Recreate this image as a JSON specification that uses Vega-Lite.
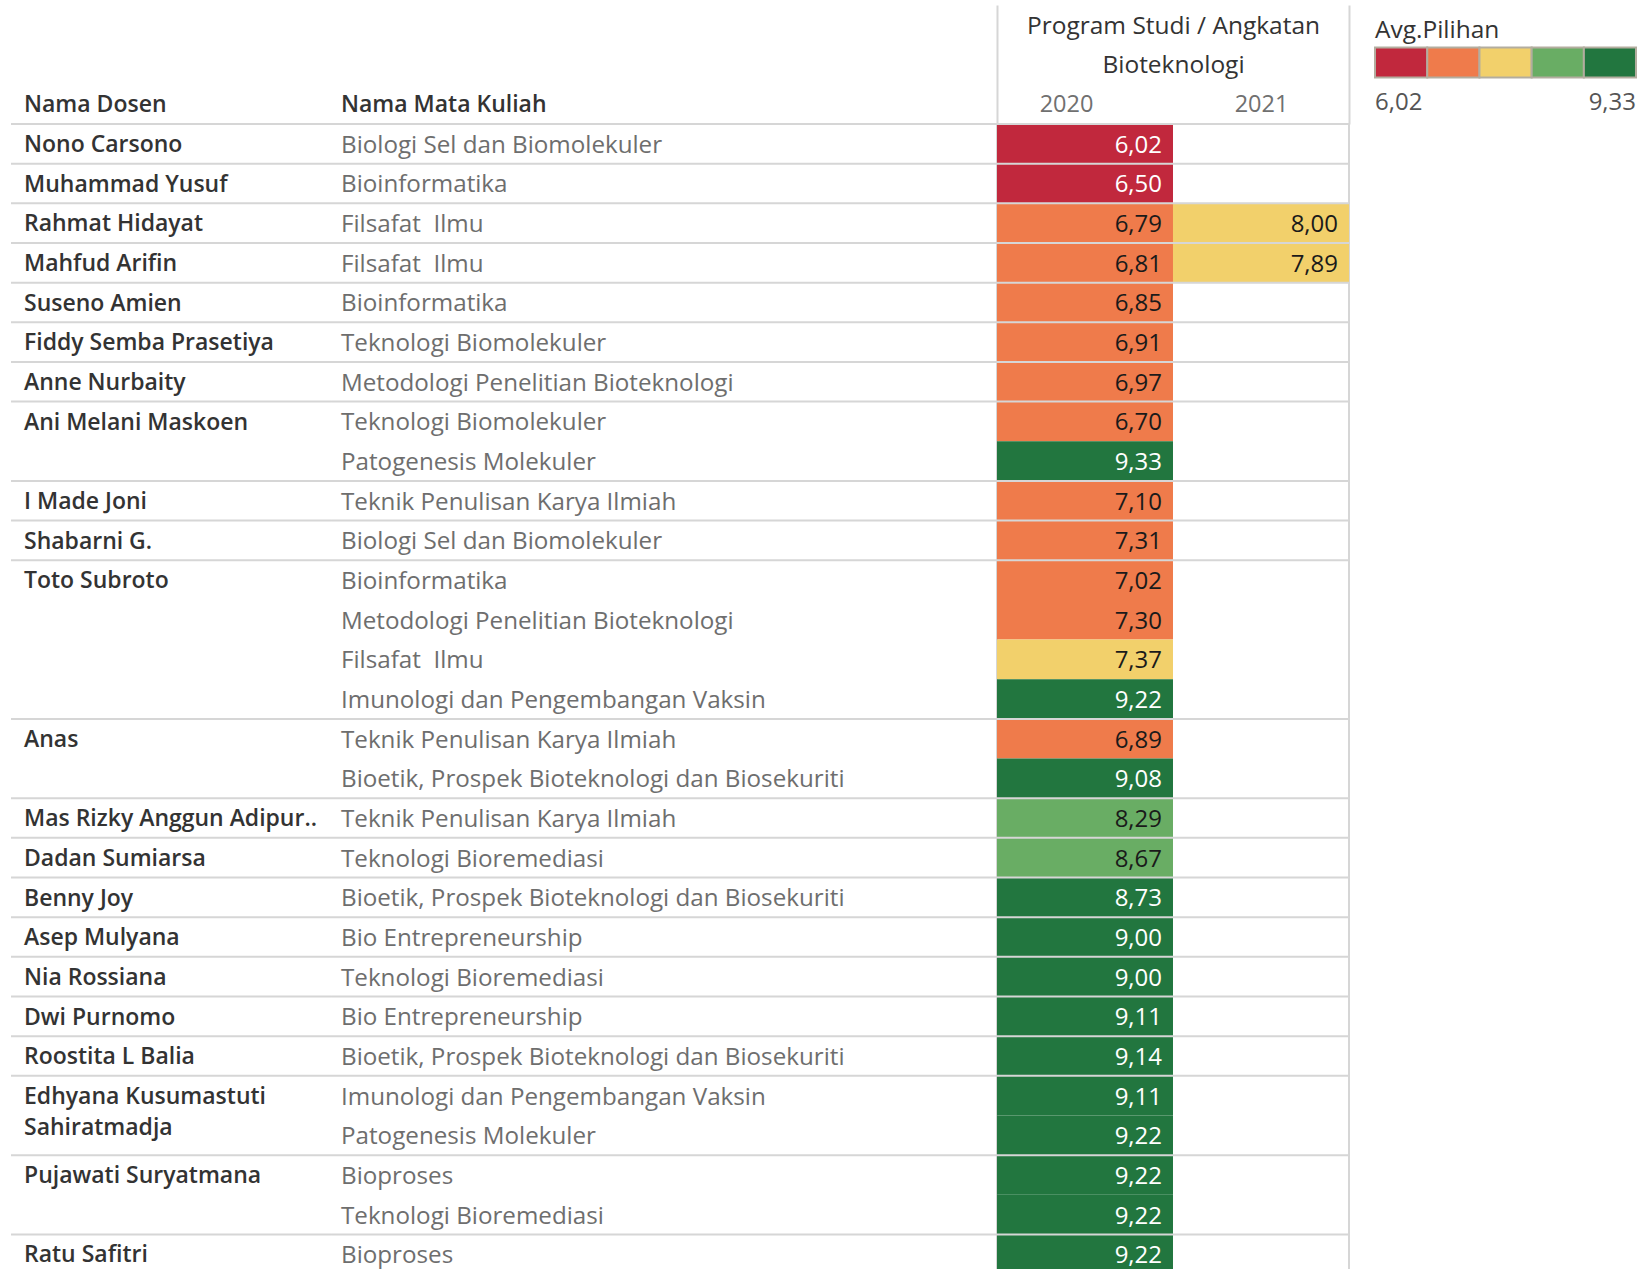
{
  "$schema": "https://vega.github.io/schema/vega-lite/v6.json",
  "padding": {"left": 10, "top": 3, "right": 0, "bottom": 0},
  "background": "white",
  "spacing": 0,
  "bounds": "flush",
  "config": {
    "font": "Open Sans",
    "locale": {"number": {"decimal": ",", "thousands": ".", "grouping": [3], "currency": ["", ""]}},
    "view": {"stroke": null},
    "concat": {"spacing": 0},
    "legend": {"gradientLength": 261, "gradientThickness": 30, "gradientHorizontalMaxLength": 400, "gradientHorizontalMinLength": 100, "gradientStrokeColor": "#b3ad9f", "gradientStrokeWidth": 2, "labelFontSize": 24, "labelColor": "#555555", "titleFontSize": 24.5, "titleFontWeight": 500, "titleColor": "#333333", "padding": 0}
  },
  "datasets": {
    "rows": [
      {"no": 1, "dosen": "Nono Carsono", "matkul": "Biologi Sel dan Biomolekuler", "2020": 6.02, "2021": null},
      {"no": 2, "dosen": "Muhammad Yusuf", "matkul": "Bioinformatika", "2020": 6.50, "2021": null},
      {"no": 3, "dosen": "Rahmat Hidayat", "matkul": "Filsafat \u00a0Ilmu", "2020": 6.79, "2021": 8.00},
      {"no": 4, "dosen": "Mahfud Arifin", "matkul": "Filsafat \u00a0Ilmu", "2020": 6.81, "2021": 7.89},
      {"no": 5, "dosen": "Suseno Amien", "matkul": "Bioinformatika", "2020": 6.85, "2021": null},
      {"no": 6, "dosen": "Fiddy Semba Prasetiya", "matkul": "Teknologi Biomolekuler", "2020": 6.91, "2021": null},
      {"no": 7, "dosen": "Anne Nurbaity", "matkul": "Metodologi Penelitian Bioteknologi", "2020": 6.97, "2021": null},
      {"no": 8, "dosen": "Ani Melani Maskoen", "matkul": "Teknologi Biomolekuler", "2020": 6.70, "2021": null},
      {"no": 9, "dosen": "Ani Melani Maskoen", "matkul": "Patogenesis Molekuler", "2020": 9.33, "2021": null},
      {"no": 10, "dosen": "I Made Joni", "matkul": "Teknik Penulisan Karya Ilmiah", "2020": 7.10, "2021": null},
      {"no": 11, "dosen": "Shabarni G.", "matkul": "Biologi Sel dan Biomolekuler", "2020": 7.31, "2021": null},
      {"no": 12, "dosen": "Toto Subroto", "matkul": "Bioinformatika", "2020": 7.02, "2021": null},
      {"no": 13, "dosen": "Toto Subroto", "matkul": "Metodologi Penelitian Bioteknologi", "2020": 7.30, "2021": null},
      {"no": 14, "dosen": "Toto Subroto", "matkul": "Filsafat \u00a0Ilmu", "2020": 7.37, "2021": null},
      {"no": 15, "dosen": "Toto Subroto", "matkul": "Imunologi dan Pengembangan Vaksin", "2020": 9.22, "2021": null},
      {"no": 16, "dosen": "Anas", "matkul": "Teknik Penulisan Karya Ilmiah", "2020": 6.89, "2021": null},
      {"no": 17, "dosen": "Anas", "matkul": "Bioetik, Prospek Bioteknologi dan Biosekuriti", "2020": 9.08, "2021": null},
      {"no": 18, "dosen": "Mas Rizky Anggun Adipur..", "matkul": "Teknik Penulisan Karya Ilmiah", "2020": 8.29, "2021": null},
      {"no": 19, "dosen": "Dadan Sumiarsa", "matkul": "Teknologi Bioremediasi", "2020": 8.667, "2021": null},
      {"no": 20, "dosen": "Benny Joy", "matkul": "Bioetik, Prospek Bioteknologi dan Biosekuriti", "2020": 8.73, "2021": null},
      {"no": 21, "dosen": "Asep Mulyana", "matkul": "Bio Entrepreneurship", "2020": 9.00, "2021": null},
      {"no": 22, "dosen": "Nia Rossiana", "matkul": "Teknologi Bioremediasi", "2020": 9.00, "2021": null},
      {"no": 23, "dosen": "Dwi Purnomo", "matkul": "Bio Entrepreneurship", "2020": 9.11, "2021": null},
      {"no": 24, "dosen": "Roostita L Balia", "matkul": "Bioetik, Prospek Bioteknologi dan Biosekuriti", "2020": 9.14, "2021": null},
      {"no": 25, "dosen": "Edhyana Kusumastuti Sahiratmadja", "matkul": "Imunologi dan Pengembangan Vaksin", "2020": 9.11, "2021": null},
      {"no": 26, "dosen": "Edhyana Kusumastuti Sahiratmadja", "matkul": "Patogenesis Molekuler", "2020": 9.22, "2021": null},
      {"no": 27, "dosen": "Pujawati Suryatmana", "matkul": "Bioproses", "2020": 9.22, "2021": null},
      {"no": 28, "dosen": "Pujawati Suryatmana", "matkul": "Teknologi Bioremediasi", "2020": 9.22, "2021": null},
      {"no": 29, "dosen": "Ratu Safitri", "matkul": "Bioproses", "2020": 9.22, "2021": null}
    ]
  },
  "data": {"name": "rows"},
  "transform": [
    {"joinaggregate": [{"op": "min", "field": "no", "as": "first"}], "groupby": ["dosen"]},
    {"calculate": "length(datum.dosen) > 28 ? [slice(datum.dosen, 0, lastindexof(datum.dosen, ' ')), slice(datum.dosen, lastindexof(datum.dosen, ' ') + 1)] : datum.dosen", "as": "namaTampil"}
  ],
  "resolve": {"scale": {"y": "shared"}},
  "hconcat": [
    {
      "width": 320,
      "height": {"step": 39.66},
      "layer": [
        {
          "transform": [{"filter": "datum.no == datum.first"}],
          "mark": {"type": "text", "align": "left", "baseline": "top", "fontSize": 23, "fontWeight": 600, "color": "#333333", "dx": 13, "dy": 10, "lineHeight": 31},
          "encoding": {
            "x": {"datum": "Nama Dosen", "type": "nominal", "bandPosition": 0,
              "scale": {"type": "band", "paddingInner": 0, "paddingOuter": 0},
              "axis": {"orient": "top", "title": null, "ticks": false, "tickSize": 0, "domain": false, "labelAngle": 0, "labelAlign": "left", "labelBaseline": "middle", "labelPadding": 19, "labelOffset": -147, "labelLimit": 500, "labelFontSize": 23, "labelFontWeight": 600, "labelColor": "#333333"}},
            "y": {"field": "no", "type": "ordinal", "bandPosition": 0, "scale": {"type": "band", "paddingInner": 0, "paddingOuter": 0}, "axis": null},
            "text": {"field": "namaTampil"}
          }
        },
        {
          "transform": [{"filter": "datum.no == datum.first"}],
          "mark": {"type": "rule", "color": "#d6d6d6", "strokeWidth": 2},
          "encoding": {
            "y": {"field": "no", "type": "ordinal", "bandPosition": 0, "scale": {"type": "band", "paddingInner": 0, "paddingOuter": 0}, "axis": null}
          }
        }
      ]
    },
    {
      "width": 666,
      "height": {"step": 39.66},
      "layer": [
        {
          "mark": {"type": "text", "align": "left", "baseline": "middle", "fontSize": 24.2, "color": "#6e6e6e", "dx": 10, "dy": 2},
          "encoding": {
            "x": {"datum": "Nama Mata Kuliah", "type": "nominal", "bandPosition": 0,
              "scale": {"type": "band", "paddingInner": 0, "paddingOuter": 0},
              "axis": {"orient": "top", "title": null, "ticks": false, "tickSize": 0, "domain": false, "labelAngle": 0, "labelAlign": "left", "labelBaseline": "middle", "labelPadding": 19, "labelOffset": -323, "labelLimit": 500, "labelFontSize": 23, "labelFontWeight": 600, "labelColor": "#333333"}},
            "y": {"field": "no", "type": "ordinal", "scale": {"type": "band", "paddingInner": 0, "paddingOuter": 0}, "axis": null},
            "text": {"field": "matkul"}
          }
        },
        {
          "transform": [{"filter": "datum.no == datum.first"}],
          "mark": {"type": "rule", "color": "#d6d6d6", "strokeWidth": 2},
          "encoding": {
            "y": {"field": "no", "type": "ordinal", "bandPosition": 0, "scale": {"type": "band", "paddingInner": 0, "paddingOuter": 0}, "axis": null}
          }
        }
      ]
    },
    {
      "width": 352,
      "height": {"step": 39.66},
      "view": {"stroke": "#d6d6d6", "strokeWidth": 2},
      "layer": [
        {
          "transform": [
            {"fold": ["2020", "2021"], "as": ["tahun", "nilai"]},
            {"filter": "isValid(datum.nilai)"}
          ],
          "mark": {"type": "rect"},
          "encoding": {
            "x": {"field": "tahun", "type": "nominal",
              "scale": {"type": "band", "domain": ["2020", "2021"], "paddingInner": 0, "paddingOuter": 0},
              "axis": {"orient": "top", "title": ["Program Studi / Angkatan", "Bioteknologi"], "titleFontSize": 24.5, "titleFontWeight": 500, "titleColor": "#333333", "titleLineHeight": 39, "titleBaseline": "top", "titleAlign": "center", "titleX": 176, "titleY": -109,
                "labelAngle": 0, "labelFontSize": 23.5, "labelColor": "#707070", "labelBaseline": "middle", "labelPadding": -100,
                "labelOffset": {"condition": {"test": "datum.value == '2020'", "value": -19}, "value": 0},
                "tickSize": 119, "tickBand": "extent", "tickWidth": 2,
                "tickColor": {"condition": {"test": "datum.value == '2020'", "value": "transparent"}, "value": "#d6d6d6"},
                "domain": false}},
            "y": {"field": "no", "type": "ordinal", "scale": {"type": "band", "paddingInner": 0, "paddingOuter": 0}, "axis": null},
            "color": {"field": "nilai", "type": "quantitative",
              "scale": {"type": "quantize", "domain": [6.02, 9.33], "range": ["#c1283d", "#ef7b4b", "#f2d06b", "#69ad64", "#22763f"]},
              "legend": {"title": "Avg.Pilihan", "orient": "none", "legendX": 1364, "legendY": -105, "direction": "horizontal", "padding": 0,
                "gradientLength": 261, "gradientThickness": 30, "gradientStrokeColor": "#b3ad9f", "gradientStrokeWidth": 2,
                "format": ".2f", "values": [6.02, 6.02, 6.683, 7.345, 8.007, 8.669, 9.33],
                "labelExpr": "abs(datum.value - 6.02) < 0.001 || abs(datum.value - 9.33) < 0.001 ? datum.label : ''",
                "labelFontSize": 24, "labelColor": "#555555", "labelOffset": 14,
                "titleFontSize": 24.5, "titleFontWeight": 500, "titleColor": "#333333", "titlePadding": 4}}
          }
        },
        {
          "transform": [
            {"fold": ["2020", "2021"], "as": ["tahun", "nilai"]},
            {"filter": "isValid(datum.nilai)"}
          ],
          "mark": {"type": "text", "align": "right", "baseline": "middle", "fontSize": 24, "dx": -11, "dy": 2},
          "encoding": {
            "x": {"field": "tahun", "type": "nominal", "bandPosition": 1},
            "y": {"field": "no", "type": "ordinal", "scale": {"type": "band", "paddingInner": 0, "paddingOuter": 0}, "axis": null},
            "text": {"field": "nilai", "type": "quantitative", "format": ".2f"},
            "color": {"condition": {"test": "datum.nilai < 6.682 || datum.nilai >= 8.668", "value": "#ffffff"}, "value": "#1a1a1a"}
          }
        },
        {
          "transform": [{"filter": "datum.no == datum.first"}],
          "mark": {"type": "rule", "color": "#d6d6d6", "strokeWidth": 2},
          "encoding": {
            "y": {"field": "no", "type": "ordinal", "bandPosition": 0, "scale": {"type": "band", "paddingInner": 0, "paddingOuter": 0}, "axis": null}
          }
        }
      ]
    }
  ]
}
